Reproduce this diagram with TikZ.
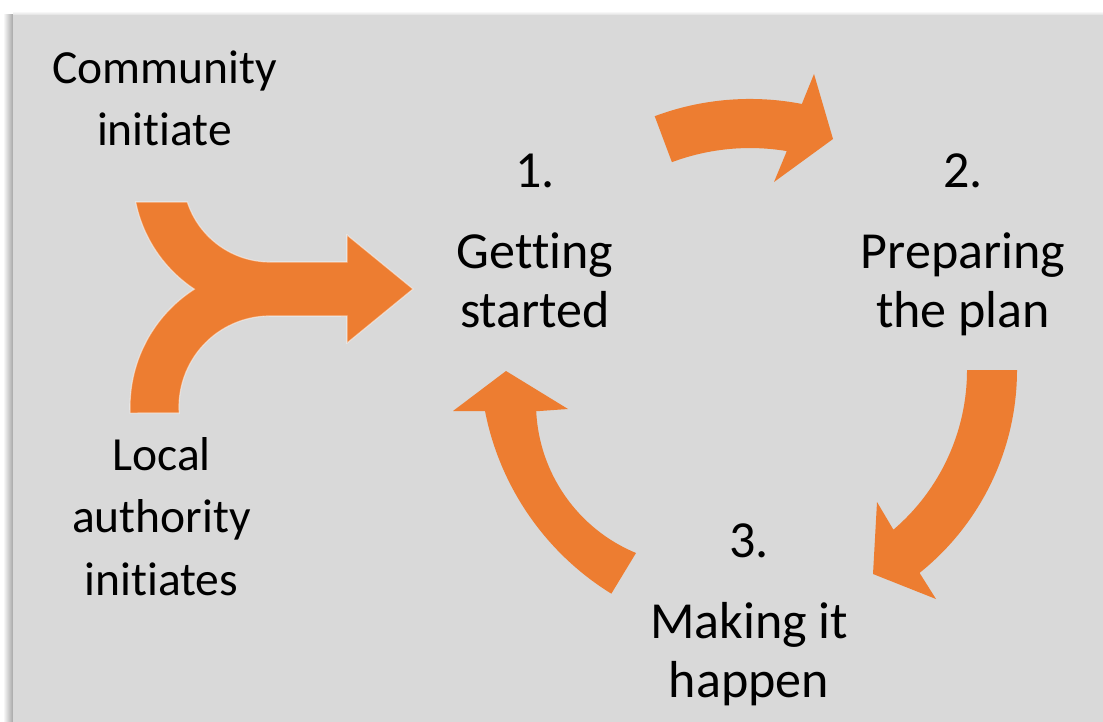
\documentclass[tikz,border=0pt]{standalone}
\usepackage{fontspec}
\setmainfont{Carlito}[Ligatures=NoCommon]

\definecolor{cycorange}{RGB}{237,125,49}
\definecolor{panelgrey}{RGB}{217,217,217}

\begin{document}
\begin{tikzpicture}[x=0.025cm, y=-0.025cm,
      sidelabel/.style={align=center, anchor=base, font=\fontsize{33.8}{44.1}\selectfont},
      steplabel/.style={align=center, anchor=base, font=\fontsize{37}{41.3}\selectfont},
      cyclearrow/.style={fill=cycorange},
      mergearrow/.style={fill=cycorange, draw=white, draw opacity=0.5, line width=0.8pt},
    ]
    \useasboundingbox (0,0) rectangle (1103,722);
    \fill[white] (0,0) rectangle (1103,722);
    % panel with its soft shadow
    \shade[left color=white, right color=gray!70] (3,15) rectangle (13,722);
    \shade[top color=white, bottom color=gray!25] (13,11) rectangle (1103,15);
    \fill[panelgrey] (13,15) rectangle (1103,722);

    % base anchor sits on the last line
    \node[sidelabel] (community) at (164.5,146) {Community\\initiate};
    \node[sidelabel] (localauth) at (161.5,595) {Local\\authority\\initiates};

    \node[steplabel] (start) at (535,327) {1.\\[0.575cm]Getting\\started};
    \node[steplabel] (plan) at (963,327) {2.\\[0.575cm]Preparing\\the plan};
    \node[steplabel] (happen) at (749,697) {3.\\[0.575cm]Making it\\happen};

    % two branches joining into one arrow
    \fill[mergearrow] (135.7,202) arc[start angle=168.6, end angle=123.5, radius=137]
        arc[start angle=237.3, end angle=177.5, radius=140]
        -- (179.2,413) arc[start angle=176.2, end angle=270, radius=91]
        -- (347,316) -- (347,343) -- (413,289) -- (347,235) -- (347,262) -- (270,262)
        arc[start angle=90, end angle=161.9, radius=87] -- cycle;

    % the cycle 1 -> 2 -> 3 -> 1
    \fill[cyclearrow] (654.7,116.2) arc[start angle=-110.5, end angle=-79, radius=272]
        -- (814,74) -- (833,139) -- (774,182) -- (786.8,151.1)
        arc[start angle=-80.5, end angle=-110.5, radius=223] -- cycle;
    \fill[cyclearrow] (1017,370) arc[start angle=0, end angle=51.3, radius=260]
        -- (936,599) -- (873,574) -- (877,502) -- (893.4,529.7)
        arc[start angle=49.5, end angle=0, radius=210] -- cycle;
    \fill[cyclearrow] (636,553) arc[start angle=112.5, end angle=177.2, radius=162]
        -- (568,409) -- (506,371) -- (453,411) -- (485,411)
        arc[start angle=168.97, end angle=121.7, radius=277] -- cycle;
\end{tikzpicture}
\end{document}
